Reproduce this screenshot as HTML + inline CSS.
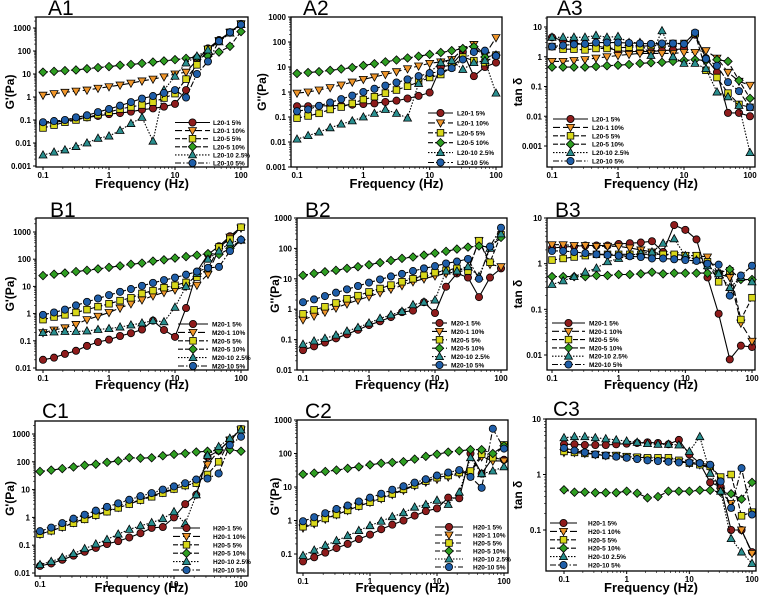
<!DOCTYPE html>
<html><head><meta charset="utf-8">
<style>
html,body{margin:0;padding:0;background:#fff;}
svg{display:block;font-family:"Liberation Sans",sans-serif;}
</style></head>
<body>
<svg id="fig" width="760" height="599" viewBox="0 0 760 599" xmlns="http://www.w3.org/2000/svg"></svg>
<script>
const freqs=[0.1,0.147,0.215,0.316,0.464,0.681,1,1.47,2.15,3.16,4.64,6.81,10,14.7,21.5,31.6,46.4,68.1,100];
const a1Values=[
[0.07,0.08,0.09,0.11,0.13,0.15,0.18,0.2,0.23,0.28,0.32,0.38,0.5,2,40,130,300,650,1500],
[1.2,1.4,1.6,1.8,2.0,2.4,2.8,3.3,4,5,6,7.5,10,12,40,120,280,650,1500],
[0.045,0.06,0.08,0.1,0.13,0.17,0.22,0.3,0.37,0.45,0.6,0.9,1.4,6,25,120,280,650,1500],
[12,13,14,15,17,19,21,24,26,29,33,37,42,48,55,60,90,160,700],
[0.003,0.004,0.005,0.007,0.01,0.016,0.02,0.035,0.07,0.13,0.012,2,8,30,60,110,250,600,1400],
[0.08,0.09,0.1,0.13,0.16,0.22,0.3,0.42,0.6,0.85,1.1,1.5,2,0.95,10,35,270,650,1400]];
const a2Values=[
[0.27,0.27,0.28,0.28,0.29,0.31,0.33,0.35,0.4,0.45,0.55,0.7,0.95,10,12,40,4.3,10,15],
[0.9,1.0,1.2,1.5,1.9,2.5,3.2,4,5,6.5,8.5,11,14,16,20,50,80,30,150],
[0.09,0.11,0.14,0.2,0.25,0.35,0.5,0.65,0.9,1.2,1.7,2.5,3.8,5,10,25,18,15,30],
[5.5,6,6.5,7.3,8.3,9.5,11.5,13.5,16,19,23,27,32,38,45,55,65,25,30],
[0.013,0.018,0.025,0.037,0.052,0.07,0.1,0.14,0.2,0.14,0.09,2.2,6,15,18,8,15,18,0.9],
[0.17,0.2,0.28,0.38,0.52,0.72,1,1.35,1.8,2.4,3.2,4.3,5.7,6.5,9,20,40,45,28]];
const a3Values=[
[4.5,3.5,3,2.5,2.3,2,1.6,1.5,1.5,1.5,1.6,1.7,1.9,5.5,0.9,0.3,0.013,0.013,0.01],
[0.7,0.7,0.75,0.8,0.9,1,1.1,1.2,1.3,1.3,1.3,1.3,1.4,1.4,1.6,0.9,0.3,0.15,0.11],
[2.2,1.8,1.8,1.7,1.9,1.9,2,2.1,2.2,2.4,2.6,2.8,2.8,6,0.35,0.2,0.06,0.025,0.02],
[0.45,0.45,0.45,0.45,0.47,0.5,0.52,0.55,0.6,0.63,0.65,0.7,0.75,0.8,0.75,0.8,0.7,0.16,0.04],
[4.5,4.5,4.5,4.5,5.2,4.5,4.8,3,3,1.1,7.5,1,0.6,0.6,0.4,0.065,0.045,0.023,0.0006],
[2.2,2.4,2.6,2.7,3,3,3,2.9,2.8,2.7,2.8,2.8,2.7,6.5,0.85,0.5,0.14,0.07,0.02]];
const b1Values=[
[0.02,0.024,0.033,0.043,0.065,0.09,0.11,0.15,0.19,0.26,0.55,0.25,0.14,1.6,35,150,300,700,1500],
[0.2,0.25,0.3,0.4,0.6,0.8,1.1,1.6,2.3,3.2,4.5,6,7.5,10,11,28,250,650,1400],
[0.6,0.75,0.9,1.1,1.4,1.8,2.3,3,3.8,5.5,7,9,11,14,22,45,280,550,1500],
[25,28,31,35,39,44,50,57,65,72,85,95,110,125,140,160,150,250,520],
[0.2,0.21,0.22,0.22,0.23,0.26,0.28,0.32,0.38,0.45,0.55,0.5,1.7,10,30,100,200,400,500],
[0.9,1.1,1.4,2,2.7,3.6,4.8,6.3,8,10.5,13.5,17,21,27,35,48,52,200,520]];
const b2Values=[
[0.045,0.06,0.08,0.11,0.15,0.21,0.3,0.4,0.55,0.8,0.9,1.7,0.75,5.5,15,11,2.5,11,22],
[0.45,0.6,0.8,1.1,1.5,2,2.6,3.5,4.6,6,8,10,12.5,15,17,19,180,30,25],
[0.7,0.95,1.2,1.6,2.2,2.8,3.7,4.8,6.2,8,10,13,16,19,22,18,180,35,280],
[13,15,17,19,22,25,29,34,40,47,52,60,70,80,95,110,120,110,230],
[0.07,0.09,0.11,0.14,0.19,0.25,0.35,0.5,0.65,0.85,1.4,1.7,2,18,18,25,12,100,300],
[1.7,2.1,2.7,3.5,4.5,5.8,7.5,9.5,12,14.5,18,22,26,32,37,45,10,115,480]];
const b3Values=[
[2.2,2.3,2.4,2.5,2.5,2.5,2.7,2.8,2.9,3.1,1.8,7,5.5,3.4,0.5,0.08,0.008,0.016,0.015],
[2.6,2.6,2.5,2.5,2.4,2.4,2.4,2.2,2,1.8,1.6,1.5,1.5,1.5,1.4,0.6,0.5,0.05,0.02],
[1.2,1.3,1.4,1.5,1.6,1.6,1.6,1.6,1.6,1.6,1.6,1.6,1.5,1.5,1.1,0.4,0.7,0.06,0.18],
[0.52,0.52,0.52,0.52,0.55,0.55,0.58,0.58,0.6,0.65,0.6,0.62,0.62,0.62,0.62,0.62,0.75,0.45,0.45],
[0.35,0.42,0.52,0.65,0.8,1.1,1.3,1.5,1.7,1.8,2.8,3.5,1.5,1.2,0.9,0.6,0.3,0.5,0.4],
[1.9,1.9,1.8,1.7,1.6,1.55,1.5,1.45,1.4,1.3,1.3,1.25,1.2,1.15,1.0,0.95,0.2,0.55,0.9]];
const c1Values=[
[0.018,0.022,0.03,0.042,0.058,0.08,0.11,0.14,0.19,0.27,0.42,0.45,1,3,6.5,150,250,600,1500],
[0.25,0.33,0.45,0.65,0.9,1.2,1.7,2.3,3.2,4.3,6,8,11,14,18,80,250,600,1400],
[0.25,0.33,0.45,0.62,0.85,1.2,1.6,2.2,3,4.2,5.5,7.5,10.5,14,17,35,100,600,1500],
[45,50,57,65,75,82,95,108,140,135,140,165,185,200,225,240,260,270,240],
[0.02,0.026,0.036,0.05,0.075,0.11,0.16,0.25,0.37,0.5,0.65,0.9,1.6,0.6,6.5,170,350,700,1400],
[0.32,0.43,0.62,0.9,1.25,1.75,2.4,3.2,4.3,5.8,7.5,10,13,17,23,25,38,400,800]];
const c2Values=[
[0.06,0.08,0.11,0.15,0.2,0.28,0.38,0.55,0.75,1,1.4,1.9,2.3,4.8,4.6,100,25,75,65],
[0.6,0.8,1.1,1.5,2,2.7,3.5,4.5,6,8,11,14,17,20,25,28,80,60,60],
[0.65,0.85,1.15,1.5,2,2.7,3.5,4.6,6.2,8.5,11.5,15,19,22,27,30,95,75,180],
[24,26,29,32,36,40,46,51,54,57,68,82,95,110,120,130,130,100,170],
[0.09,0.13,0.18,0.25,0.35,0.5,0.7,0.95,1.3,1.7,2.5,3,4,3,7,75,25,30,40],
[0.95,1.25,1.65,2.2,2.8,3.7,4.8,6.3,8.3,10.5,13.5,17,22,27,32,20,9.5,550,140]];
const c3Values=[
[3.5,3.5,3.4,3.4,3.4,3.5,3.6,3.7,3.8,3.7,3.5,4.2,2.3,1.6,0.72,0.6,0.1,0.1,0.04],
[2.5,2.5,2.4,2.3,2.2,2.2,2.1,2,1.9,1.8,1.75,1.7,1.6,1.5,1.3,0.5,0.3,0.1,0.038],
[2.6,2.5,2.4,2.3,2.2,2.2,2.1,2.05,2,2,2,1.8,1.6,1.5,1.4,0.9,1,0.18,0.21],
[0.53,0.48,0.48,0.47,0.47,0.47,0.5,0.46,0.38,0.4,0.5,0.5,0.5,0.52,0.52,0.48,0.45,0.36,0.72],
[4.6,4.8,4.8,4.6,4.4,4.2,4,3.8,3.6,3.5,3.5,3.4,2.6,4.8,1.05,0.5,0.07,0.04,0.025],
[3,2.7,2.5,2.3,2.2,2.1,2,1.9,1.8,1.75,1.7,1.65,1.65,1.6,1.5,0.75,0.25,1.3,0.19]];
const xTickLabels=["0.1","1","10","100"];
const seriesSuffix=["1 5%","1 10%","5 5%","5 10%","10 2.5%","10 5%"];

const NS="http://www.w3.org/2000/svg";
const svg=document.getElementById('fig');
function mk(tag,attrs,parent){const e=document.createElementNS(NS,tag);for(const k in attrs)e.setAttribute(k,attrs[k]);(parent||svg).appendChild(e);return e;}
const colors=["#8e1c1c","#f0962a","#d8d81a","#2f9e22","#2a8f8f","#1f5ea8"];
const dashes=["","7,3","5,2","5,2","1.5,1.5","6,2,1.5,2"];
const shapes=["circle","tridown","square","diamond","triup","circle"];
function marker(g,shape,x,y,c){
  const st={fill:c,stroke:"#000","stroke-width":0.8};
  let e;
  if(shape==="circle") e=mk('circle',Object.assign({cx:x,cy:y,r:3.6},st),g);
  else if(shape==="square") e=mk('rect',Object.assign({x:x-3.3,y:y-3.3,width:6.6,height:6.6},st),g);
  else if(shape==="diamond") e=mk('polygon',Object.assign({points:`${x},${y-4.2} ${x+4.2},${y} ${x},${y+4.2} ${x-4.2},${y}`},st),g);
  else if(shape==="triup") e=mk('polygon',Object.assign({points:`${x},${y-4.2} ${x+4},${y+3} ${x-4},${y+3}`},st),g);
  else e=mk('polygon',Object.assign({points:`${x},${y+4.2} ${x+4},${y-3} ${x-4},${y-3}`},st),g);
  
  
}
const panels=[
 {id:"A1",data:a1Values,prefix:"L20-",box:[36,17,248,167],x0:43,x3:241,yA:[3,28],yB:[-3,166],yt:["0.001","0.01","0.1","1","10","100","1000"],ylog:[-3,3],ytitle:"G'(Pa)",ytx:10,lbl:[48,15],xt:188,leg:[175,210,213,122.5,8.1]},
 {id:"A2",data:a2Values,prefix:"L20-",box:[291,17,502,167],x0:297,x3:496,yA:[3,17],yB:[-3,167],yt:["0.001","0.01","0.1","1","10","100","1000"],ylog:[-3,3],ytitle:"G''(Pa)",ytx:262,lbl:[303,15],xt:188,leg:[428,453,457,113,9.9]},
 {id:"A3",data:a3Values,prefix:"L20-",box:[547,17,755,167],x0:552,x3:750,yA:[1,27],yB:[-3,146],yt:["0.001","0.01","0.1","1","10"],ylog:[-3,1],ytitle:"tan δ",ytx:518,lbl:[557,15],xt:188,leg:[553,588,592,119,8.4]},
 {id:"B1",data:b1Values,prefix:"M20-",box:[36,218,248,370],x0:43,x3:241,yA:[3,232],yB:[-2,368],yt:["0.01","0.1","1","10","100","1000"],ylog:[-2,3],ytitle:"G'(Pa)",ytx:10,lbl:[50,217],xt:389,leg:[178,208,212,324,8.4]},
 {id:"B2",data:b2Values,prefix:"M20-",box:[297,218,507,370],x0:303,x3:501,yA:[3,218],yB:[-2,370],yt:["0.01","0.1","1","10","100","1000"],ylog:[-2,3],ytitle:"G''(Pa)",ytx:275,lbl:[305,217],xt:389,leg:[432,447,451,323,8.4]},
 {id:"B3",data:b3Values,prefix:"M20-",box:[547,218,755,370],x0:552,x3:752,yA:[1,218],yB:[-2,355],yt:["0.01","0.1","1","10"],ylog:[-2,1],ytitle:"tan δ",ytx:518,lbl:[555,217],xt:389,leg:[552,585,589,323,8.3]},
 {id:"C1",data:c1Values,prefix:"H20-",box:[35,421,248,576],x0:40,x3:241,yA:[3,434],yB:[-2,573],yt:["0.01","0.1","1","10","100","1000"],ylog:[-2,3],ytitle:"G'(Pa)",ytx:10,lbl:[42,418],xt:592,leg:[173,200,213,528,8.4]},
 {id:"C2",data:c2Values,prefix:"H20-",box:[297,420,508,573],x0:303,x3:504,yA:[3,420],yB:[-1,554],yt:["0.1","1","10","100","1000"],ylog:[-1,3],ytitle:"G''(Pa)",ytx:275,lbl:[305,418],xt:592,leg:[435,463,473,527,8]},
 {id:"C3",data:c3Values,prefix:"H20-",box:[546,419,756,571],x0:564,x3:752,yA:[1,419],yB:[-1,530],yt:["0.1","1","10"],ylog:[-1,1],ytitle:"tan δ",ytx:518,lbl:[553,416],xt:592,leg:[550,577,588,523,8.4]}
];
panels.forEach(p=>{
  const g=mk('g',{});
  
  
  const xs=v=>p.x0+(Math.log10(v)+1)*(p.x3-p.x0)/3;
  const ys=v=>p.yA[1]+(Math.log10(v)-p.yA[0])*(p.yB[1]-p.yA[1])/(p.yB[0]-p.yA[0]);
  const [L,T,R,B]=p.box;
  const frame=mk('rect',{x:L,y:T,width:R-L,height:B-T,fill:"#fff",stroke:"#000","stroke-width":1.3},g);
  
  
  // x ticks
  xTickLabels.forEach((t,i)=>{
    const x=xs(parseFloat(t));
    mk('line',{x1:x,x2:x,y1:B,y2:B+3,stroke:"#000","stroke-width":1},g);
    for(let m=2;m<10&&i<3;m++){const xm=xs(parseFloat(t)*m);mk('line',{x1:xm,x2:xm,y1:B,y2:B+2,stroke:"#000","stroke-width":0.6},g);}
    const tx=mk('text',{x:x,y:B+11,"font-size":8,"font-weight":"bold","text-anchor":"middle"},g);
    tx.textContent=t;
    
    
  });
  p.yt.forEach((t,i)=>{
    const y=ys(parseFloat(t));
    mk('line',{x1:L-3,x2:L,y1:y,y2:y,stroke:"#000","stroke-width":1},g);
    if(i<p.yt.length-1||ys(parseFloat(t)*2)>T) for(let m=2;m<10;m++){const ym=ys(parseFloat(t)*m);if(ym>T&&ym<B)mk('line',{x1:L-2,x2:L,y1:ym,y2:ym,stroke:"#000","stroke-width":0.6},g);}
    const tx=mk('text',{x:L-5,y:y+3,"font-size":8,"font-weight":"bold","text-anchor":"end"},g);
    tx.textContent=t;
    
    
  });
  const cy=(T+B)/2;
  const yt=mk('text',{x:p.ytx,y:cy,"font-size":12,"font-weight":"bold","text-anchor":"middle",transform:`rotate(-90 ${p.ytx} ${cy})`,dy:4},g);
  yt.textContent=p.ytitle;
  
  
  const xt=mk('text',{x:(L+R)/2,y:p.xt,"font-size":13,"font-weight":"bold","text-anchor":"middle"},g);
  xt.textContent="Frequency (Hz)";
  
  
  const lb=mk('text',{x:p.lbl[0],y:p.lbl[1],"font-size":21},g);
  lb.textContent=p.id;
  
  
  // series
  p.data.forEach((vals,si)=>{
    const sg=mk('g',{},g);
    
    
    const pts=vals.map((v,i)=>xs(freqs[i]).toFixed(1)+","+ys(v).toFixed(1)).join(" ");
    const pl=mk('polyline',{points:pts,fill:"none",stroke:"#000","stroke-width":1.1,"stroke-dasharray":dashes[si]},sg);
    
    
    vals.forEach((v,i)=>marker(sg,shapes[si],xs(freqs[i]),ys(v),colors[si]));
  });
  // legend
  const lg=mk('g',{},g);
  
  
  const [lx1,lx2,tx0,ly0,ls]=p.leg;
  seriesSuffix.forEach((s,si)=>{
    const y=ly0+si*ls;
    const ln=mk('line',{x1:lx1,x2:lx2,y1:y,y2:y,stroke:"#000","stroke-width":1.1,"stroke-dasharray":dashes[si]},lg);
    
    
    marker(lg,shapes[si],(lx1+lx2)/2,y,colors[si]);
    const t=mk('text',{x:tx0,y:y+2.5,"font-size":6.5,"font-weight":"bold"},lg);
    t.textContent=p.prefix+s;
    
    
  });
});
</script>
</body></html>
